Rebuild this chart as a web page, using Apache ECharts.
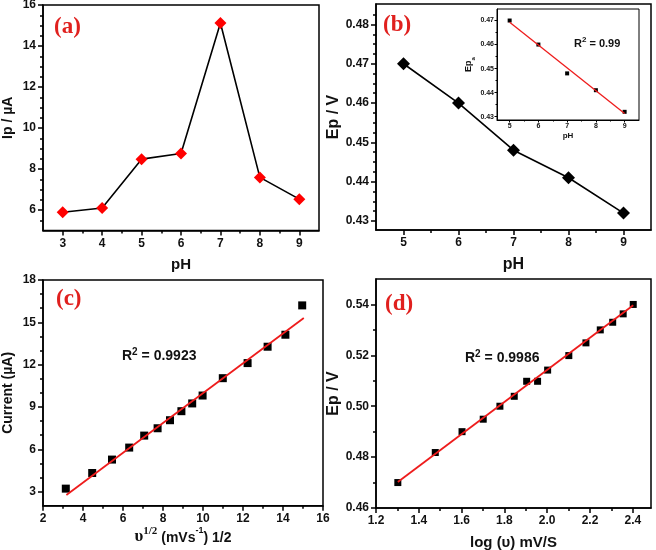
<!DOCTYPE html>
<html><head><meta charset="utf-8">
<script src="https://cdn.jsdelivr.net/npm/echarts@6/dist/echarts.min.js"></script>
<style>html,body{margin:0;padding:0;background:#fff}#c{width:656px;height:550px}</style>
</head><body><div id="c"></div>
<script>
// ---- data ----
const phA = [3, 4, 5, 6, 7, 8, 9];
const ipA = [5.89, 6.1, 8.48, 8.76, 15.12, 7.59, 6.53];

const phB = [5, 6, 7, 8, 9];
const epB = [0.470, 0.460, 0.448, 0.441, 0.432];

const phInset = [5, 6, 7, 8, 9];
const epInset = [0.470, 0.460, 0.448, 0.441, 0.432];
const fitInsetX = [5, 9];
const fitInsetY = [0.4693, 0.4313];

const sqrtScan = [3.14, 4.46, 5.45, 6.31, 7.06, 7.73, 8.35, 8.92, 9.46, 9.98, 10.99, 12.23, 13.23, 14.12, 14.96];
const currentC = [3.21, 4.32, 5.27, 6.12, 6.97, 7.49, 8.06, 8.70, 9.25, 9.81, 11.04, 12.11, 13.27, 14.12, 16.2];
const fitCX = [3.17, 15.04];
const fitCY = [2.76, 15.3];

const logScan = [1.302, 1.477, 1.602, 1.701, 1.779, 1.846, 1.904, 1.955, 2.002, 2.101, 2.181, 2.248, 2.306, 2.355, 2.402];
const epD = [0.470, 0.4818, 0.490, 0.4949, 0.500, 0.5039, 0.5098, 0.5098, 0.5142, 0.5199, 0.5249, 0.530, 0.533, 0.5363, 0.540];
const fitDX = [1.302, 2.402];
const fitDY = [0.4702, 0.5397];

// ---- tick values ----
const ticksAX = [3, 4, 5, 6, 7, 8, 9];
const minorAX = [3.5, 4.5, 5.5, 6.5, 7.5, 8.5];
const ticksAY = [6, 8, 10, 12, 14, 16];
const minorAY = [5.5, 6.5, 7, 7.5, 8.5, 9, 9.5, 10.5, 11, 11.5, 12.5, 13, 13.5, 14.5, 15, 15.5];

const ticksBX = [5, 6, 7, 8, 9];
const minorBX = [5.5, 6.5, 7.5, 8.5];
const ticksBY = [0.43, 0.44, 0.45, 0.46, 0.47, 0.48];
const minorBY = [0.4325, 0.435, 0.4375, 0.4425, 0.445, 0.4475, 0.4525, 0.455, 0.4575, 0.4625, 0.465, 0.4675, 0.4725, 0.475, 0.4775, 0.4825];

const ticksIX = [5, 6, 7, 8, 9];
const minorIX = [5.5, 6.5, 7.5, 8.5];
const ticksIY = [0.43, 0.44, 0.45, 0.46, 0.47];
const minorIY = [0.435, 0.445, 0.455, 0.465];

const ticksCX = [2, 4, 6, 8, 10, 12, 14, 16];
const minorCX = [3, 5, 7, 9, 11, 13, 15];
const ticksCY = [3, 6, 9, 12, 15, 18];
const minorCY = [4, 5, 7, 8, 10, 11, 13, 14, 16, 17];

const ticksDX = [1.2, 1.4, 1.6, 1.8, 2.0, 2.2, 2.4];
const minorDX = [1.3, 1.5, 1.7, 1.9, 2.1, 2.3];
const ticksDY = [0.46, 0.48, 0.50, 0.52, 0.54];
const minorDY = [0.47, 0.49, 0.51, 0.53];

const zip = (a, b) => a.map((v, i) => [v, b[i]]);

const SANS = 'Liberation Sans';
const SERIF = 'Liberation Serif';

function axisPair(dim, grid, min, max, major, minor, o) {
  const pos = dim === 'x' ? 'bottom' : 'left';
  const lw = o.lw || 1.5;
  const main = {
    type: 'value', gridIndex: grid, min: min, max: max, position: pos,
    splitLine: { show: false },
    axisLine: { show: true, onZero: false, lineStyle: { color: '#000', width: lw } },
    axisTick: { show: true, inside: false, length: o.tl || 5, customValues: major, lineStyle: { color: '#000', width: lw } },
    axisLabel: { show: true, customValues: major, formatter: o.fmt, margin: o.margin || 7, color: '#111',
      fontFamily: SANS, fontWeight: 'bold', fontSize: o.fs || 12 },
    name: o.name, nameLocation: 'middle', nameGap: o.gap,
    nameTextStyle: Object.assign({ color: '#111', fontFamily: SANS, fontWeight: 'bold', fontSize: o.nfs || 15 }, o.nts || {})
  };
  const mn = {
    type: 'value', gridIndex: grid, min: min, max: max, position: pos,
    splitLine: { show: false },
    axisLine: { show: false, onZero: false },
    axisTick: { show: true, inside: false, length: o.ml || 3, customValues: minor, lineStyle: { color: '#000', width: lw } },
    axisLabel: { show: false }
  };
  return [main, mn];
}

const f0 = v => String(Math.round(v));
const f1 = v => v.toFixed(1);
const f2 = v => v.toFixed(2);

const xAxes = [].concat(
  axisPair('x', 0, 2.5, 9.5, ticksAX, minorAX, { fmt: f0, name: 'pH', gap: 27, nfs: 15 }),
  axisPair('x', 1, 4.5, 9.5, ticksBX, minorBX, { fmt: f0, name: 'pH', gap: 27, nfs: 16 }),
  axisPair('x', 2, 4.56, 9.5, ticksIX, minorIX, { fmt: f0, name: 'pH', gap: 12, nfs: 8, fs: 7, margin: 3, tl: 2.5, ml: 1.5, lw: 1 }),
  axisPair('x', 3, 2, 16, ticksCX, minorCX, { fmt: f0, name: '{g|\u03c5}{gs|1/2}{b| (mVs}{bs|-1}{b|) 1/2}', gap: 17,
    nts: { rich: {
      g: { fontFamily: SERIF, fontSize: 17, color: '#111', lineHeight: 20, verticalAlign: 'bottom' },
      gs: { fontFamily: SERIF, fontSize: 11, color: '#111', lineHeight: 20, verticalAlign: 'top' },
      b: { fontFamily: SANS, fontWeight: 'bold', fontSize: 14, color: '#111', lineHeight: 20, verticalAlign: 'bottom' },
      bs: { fontFamily: SANS, fontWeight: 'bold', fontSize: 9, color: '#111', lineHeight: 20, verticalAlign: 'top' }
    } } }),
  axisPair('x', 4, 1.2, 2.485, ticksDX, minorDX, { fmt: f1, name: 'log (\u03c5) mV/S', gap: 27, nfs: 15 })
);

const yAxes = [].concat(
  axisPair('y', 0, 5, 16, ticksAY, minorAY, { fmt: f0, name: 'Ip / \u00b5A', gap: 28, nfs: 14 }),
  axisPair('y', 1, 0.4277, 0.4852, ticksBY, minorBY, { fmt: f2, name: 'Ep / V', gap: 31, nfs: 16 }),
  axisPair('y', 2, 0.4286, 0.4748, ticksIY, minorIY, { fmt: f2, name: '{b|Ep}{s|a}', gap: 20, fs: 7, margin: 3, tl: 2.5, ml: 1.5, lw: 1,
    nts: { rich: {
      b: { fontFamily: SANS, fontWeight: 'bold', fontSize: 9, color: '#111', lineHeight: 12, verticalAlign: 'top' },
      s: { fontFamily: SANS, fontWeight: 'bold', fontSize: 6, color: '#111', lineHeight: 12, verticalAlign: 'bottom' }
    } } }),
  axisPair('y', 3, 2, 18, ticksCY, minorCY, { fmt: f0, name: 'Current (\u00b5A)', gap: 28, nfs: 14 }),
  axisPair('y', 4, 0.46, 0.55, ticksDY, minorDY, { fmt: f2, name: 'Ep / V', gap: 31, nfs: 16 })
);

const gridBase = { show: true, borderColor: '#000', borderWidth: 1.5, backgroundColor: 'transparent', containLabel: false, outerBoundsMode: 'none' };
const grids = [
  Object.assign({}, gridBase, { left: 43, top: 5, width: 276, height: 225.5 }),
  Object.assign({}, gridBase, { left: 376, top: 4, width: 275, height: 226 }),
  Object.assign({}, gridBase, { left: 497, top: 9, width: 142, height: 111, borderWidth: 1, backgroundColor: '#fff' }),
  Object.assign({}, gridBase, { left: 43, top: 280, width: 280, height: 225.7 }),
  Object.assign({}, gridBase, { left: 376, top: 279, width: 275, height: 229 })
];

const RED = '#ee1c1c';
const series = [
  { type: 'line', xAxisIndex: 0, yAxisIndex: 0, data: zip(phA, ipA), symbol: 'diamond', symbolSize: 12,
    itemStyle: { color: '#ff0000', opacity: 1 }, lineStyle: { color: '#000', width: 1.6 }, z: 3 },
  { type: 'line', xAxisIndex: 2, yAxisIndex: 2, data: zip(phB, epB), symbol: 'diamond', symbolSize: 13,
    itemStyle: { color: '#000', opacity: 1 }, lineStyle: { color: '#000', width: 1.6 } },
  { type: 'line', xAxisIndex: 4, yAxisIndex: 4, data: zip(fitInsetX, fitInsetY), symbol: 'none',
    lineStyle: { color: RED, width: 1.3 } },
  { type: 'scatter', xAxisIndex: 4, yAxisIndex: 4, data: zip(phInset, epInset), symbol: 'rect', symbolSize: 4,
    itemStyle: { color: '#000', opacity: 1 } },
  { type: 'line', xAxisIndex: 6, yAxisIndex: 6, data: zip(fitCX, fitCY), symbol: 'none',
    lineStyle: { color: RED, width: 1.8 } },
  { type: 'scatter', xAxisIndex: 6, yAxisIndex: 6, data: zip(sqrtScan, currentC), symbol: 'rect', symbolSize: 8,
    itemStyle: { color: '#000', opacity: 1 } },
  { type: 'line', xAxisIndex: 8, yAxisIndex: 8, data: zip(fitDX, fitDY), symbol: 'none',
    lineStyle: { color: RED, width: 1.8 } },
  { type: 'scatter', xAxisIndex: 8, yAxisIndex: 8, data: zip(logScan, epD), symbol: 'rect', symbolSize: 7,
    itemStyle: { color: '#000', opacity: 1 } }
];

const panelStyle = { color: '#e0201e', fontFamily: SERIF, fontWeight: 'bold', fontSize: 23 };
const r2Rich = (fs) => ({
  n: { fontFamily: SANS, fontWeight: 'bold', fontSize: fs, color: '#111', lineHeight: fs + 2, verticalAlign: 'bottom' },
  s: { fontFamily: SANS, fontWeight: 'bold', fontSize: Math.round(fs * 0.72), color: '#111', lineHeight: fs + 2, verticalAlign: 'top' }
});
const titles = [
  { text: '(a)', left: 49, top: 11, textStyle: panelStyle },
  { text: '(b)', left: 378, top: 9, textStyle: panelStyle },
  { text: '(c)', left: 51, top: 283, textStyle: panelStyle },
  { text: '(d)', left: 380, top: 288, textStyle: panelStyle },
  { text: '{n|R}{s|2}{n| = 0.99}', left: 574, top: 36, padding: 0, textStyle: { rich: r2Rich(11) } },
  { text: '{n|R}{s|2}{n| = 0.9923}', left: 122, top: 347, padding: 0, textStyle: { rich: r2Rich(14) } },
  { text: '{n|R}{s|2}{n| = 0.9986}', left: 465, top: 349, padding: 0, textStyle: { rich: r2Rich(14) } }
];

const chart = echarts.init(document.getElementById('c'), null, { renderer: 'canvas' });
chart.setOption({
  backgroundColor: '#fff',
  animation: false,
  title: titles,
  grid: grids,
  xAxis: xAxes,
  yAxis: yAxes,
  series: series
});
</script></body></html>
